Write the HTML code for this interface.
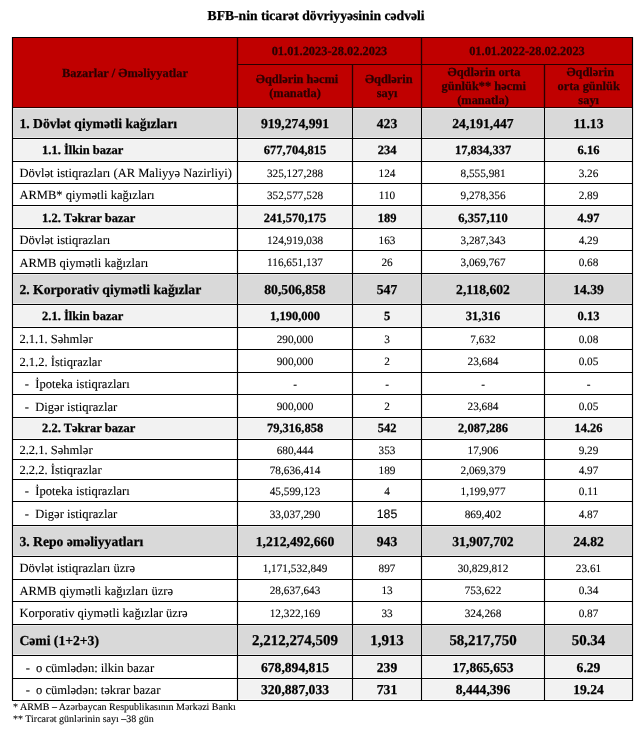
<!DOCTYPE html>
<html lang="az"><head><meta charset="utf-8"><title>BFB-nin ticarət dövriyyəsinin cədvəli</title>
<style>
html,body{margin:0;padding:0;background:#fff;}
body{width:642px;height:730px;position:relative;overflow:hidden;font-family:"Liberation Serif","DejaVu Serif",serif;color:#000;text-rendering:geometricPrecision;}
#g{position:absolute;left:0;top:0;}
.t{position:absolute;height:20px;line-height:20px;white-space:nowrap;text-align:center;-webkit-text-stroke:0.1px #000;}
.l{text-align:left;}
.b{font-weight:bold;-webkit-text-stroke:0.25px #000;}
.h{font-weight:bold;color:#2b0000;-webkit-text-stroke:0.25px #2b0000;}
.s{font-family:"Liberation Sans","DejaVu Sans",sans-serif;}
</style></head><body>
<svg id="g" width="642" height="730" viewBox="0 0 642 730">
<rect x="12.5" y="37.5" width="620.00" height="70.00" fill="#c00000"/>
<rect x="13" y="108" width="224" height="30" fill="#ececec"/>
<rect x="14" y="109" width="222" height="28" fill="#d9d9d9"/>
<rect x="238" y="108" width="114" height="30" fill="#ececec"/>
<rect x="239" y="109" width="112" height="28" fill="#d9d9d9"/>
<rect x="353" y="108" width="68" height="30" fill="#ececec"/>
<rect x="354" y="109" width="66" height="28" fill="#d9d9d9"/>
<rect x="422" y="108" width="122" height="30" fill="#ececec"/>
<rect x="423" y="109" width="120" height="28" fill="#d9d9d9"/>
<rect x="545" y="108" width="87" height="30" fill="#ececec"/>
<rect x="546" y="109" width="85" height="28" fill="#d9d9d9"/>
<rect x="13" y="139" width="224" height="22" fill="#fbfbfb"/>
<rect x="14" y="140" width="222" height="20" fill="#f2f2f2"/>
<rect x="238" y="139" width="114" height="22" fill="#fbfbfb"/>
<rect x="239" y="140" width="112" height="20" fill="#f2f2f2"/>
<rect x="353" y="139" width="68" height="22" fill="#fbfbfb"/>
<rect x="354" y="140" width="66" height="20" fill="#f2f2f2"/>
<rect x="422" y="139" width="122" height="22" fill="#fbfbfb"/>
<rect x="423" y="140" width="120" height="20" fill="#f2f2f2"/>
<rect x="545" y="139" width="87" height="22" fill="#fbfbfb"/>
<rect x="546" y="140" width="85" height="20" fill="#f2f2f2"/>
<rect x="13" y="206" width="224" height="22" fill="#fbfbfb"/>
<rect x="14" y="207" width="222" height="20" fill="#f2f2f2"/>
<rect x="238" y="206" width="114" height="22" fill="#fbfbfb"/>
<rect x="239" y="207" width="112" height="20" fill="#f2f2f2"/>
<rect x="353" y="206" width="68" height="22" fill="#fbfbfb"/>
<rect x="354" y="207" width="66" height="20" fill="#f2f2f2"/>
<rect x="422" y="206" width="122" height="22" fill="#fbfbfb"/>
<rect x="423" y="207" width="120" height="20" fill="#f2f2f2"/>
<rect x="545" y="206" width="87" height="22" fill="#fbfbfb"/>
<rect x="546" y="207" width="85" height="20" fill="#f2f2f2"/>
<rect x="13" y="274" width="224" height="30" fill="#ececec"/>
<rect x="14" y="275" width="222" height="28" fill="#d9d9d9"/>
<rect x="238" y="274" width="114" height="30" fill="#ececec"/>
<rect x="239" y="275" width="112" height="28" fill="#d9d9d9"/>
<rect x="353" y="274" width="68" height="30" fill="#ececec"/>
<rect x="354" y="275" width="66" height="28" fill="#d9d9d9"/>
<rect x="422" y="274" width="122" height="30" fill="#ececec"/>
<rect x="423" y="275" width="120" height="28" fill="#d9d9d9"/>
<rect x="545" y="274" width="87" height="30" fill="#ececec"/>
<rect x="546" y="275" width="85" height="28" fill="#d9d9d9"/>
<rect x="13" y="305" width="224" height="22" fill="#fbfbfb"/>
<rect x="14" y="306" width="222" height="20" fill="#f2f2f2"/>
<rect x="238" y="305" width="114" height="22" fill="#fbfbfb"/>
<rect x="239" y="306" width="112" height="20" fill="#f2f2f2"/>
<rect x="353" y="305" width="68" height="22" fill="#fbfbfb"/>
<rect x="354" y="306" width="66" height="20" fill="#f2f2f2"/>
<rect x="422" y="305" width="122" height="22" fill="#fbfbfb"/>
<rect x="423" y="306" width="120" height="20" fill="#f2f2f2"/>
<rect x="545" y="305" width="87" height="22" fill="#fbfbfb"/>
<rect x="546" y="306" width="85" height="20" fill="#f2f2f2"/>
<rect x="13" y="418" width="224" height="21" fill="#fbfbfb"/>
<rect x="14" y="419" width="222" height="19" fill="#f2f2f2"/>
<rect x="238" y="418" width="114" height="21" fill="#fbfbfb"/>
<rect x="239" y="419" width="112" height="19" fill="#f2f2f2"/>
<rect x="353" y="418" width="68" height="21" fill="#fbfbfb"/>
<rect x="354" y="419" width="66" height="19" fill="#f2f2f2"/>
<rect x="422" y="418" width="122" height="21" fill="#fbfbfb"/>
<rect x="423" y="419" width="120" height="19" fill="#f2f2f2"/>
<rect x="545" y="418" width="87" height="21" fill="#fbfbfb"/>
<rect x="546" y="419" width="85" height="19" fill="#f2f2f2"/>
<rect x="13" y="526" width="224" height="30" fill="#ececec"/>
<rect x="14" y="527" width="222" height="28" fill="#d9d9d9"/>
<rect x="238" y="526" width="114" height="30" fill="#ececec"/>
<rect x="239" y="527" width="112" height="28" fill="#d9d9d9"/>
<rect x="353" y="526" width="68" height="30" fill="#ececec"/>
<rect x="354" y="527" width="66" height="28" fill="#d9d9d9"/>
<rect x="422" y="526" width="122" height="30" fill="#ececec"/>
<rect x="423" y="527" width="120" height="28" fill="#d9d9d9"/>
<rect x="545" y="526" width="87" height="30" fill="#ececec"/>
<rect x="546" y="527" width="85" height="28" fill="#d9d9d9"/>
<rect x="13" y="625" width="224" height="30" fill="#ececec"/>
<rect x="14" y="626" width="222" height="28" fill="#d9d9d9"/>
<rect x="238" y="625" width="114" height="30" fill="#ececec"/>
<rect x="239" y="626" width="112" height="28" fill="#d9d9d9"/>
<rect x="353" y="625" width="68" height="30" fill="#ececec"/>
<rect x="354" y="626" width="66" height="28" fill="#d9d9d9"/>
<rect x="422" y="625" width="122" height="30" fill="#ececec"/>
<rect x="423" y="626" width="120" height="28" fill="#d9d9d9"/>
<rect x="545" y="625" width="87" height="30" fill="#ececec"/>
<rect x="546" y="626" width="85" height="28" fill="#d9d9d9"/>
<rect x="238" y="656" width="114" height="22" fill="#fbfbfb"/>
<rect x="239" y="657" width="112" height="20" fill="#f2f2f2"/>
<rect x="353" y="656" width="68" height="22" fill="#fbfbfb"/>
<rect x="354" y="657" width="66" height="20" fill="#f2f2f2"/>
<rect x="422" y="656" width="122" height="22" fill="#fbfbfb"/>
<rect x="423" y="657" width="120" height="20" fill="#f2f2f2"/>
<rect x="545" y="656" width="87" height="22" fill="#fbfbfb"/>
<rect x="546" y="657" width="85" height="20" fill="#f2f2f2"/>
<rect x="238" y="679" width="114" height="21" fill="#fbfbfb"/>
<rect x="239" y="680" width="112" height="19" fill="#f2f2f2"/>
<rect x="353" y="679" width="68" height="21" fill="#fbfbfb"/>
<rect x="354" y="680" width="66" height="19" fill="#f2f2f2"/>
<rect x="422" y="679" width="122" height="21" fill="#fbfbfb"/>
<rect x="423" y="680" width="120" height="19" fill="#f2f2f2"/>
<rect x="545" y="679" width="87" height="21" fill="#fbfbfb"/>
<rect x="546" y="680" width="85" height="19" fill="#f2f2f2"/>
<g stroke="#000" stroke-width="1.15" fill="none">
<line x1="12.0" y1="37.5" x2="633.0" y2="37.5"/>
<line x1="237.0" y1="64.5" x2="633.0" y2="64.5"/>
<line x1="12.0" y1="107.5" x2="633.0" y2="107.5"/>
<line x1="12.0" y1="138.5" x2="633.0" y2="138.5"/>
<line x1="12.0" y1="161.5" x2="633.0" y2="161.5"/>
<line x1="12.0" y1="183.5" x2="633.0" y2="183.5"/>
<line x1="12.0" y1="205.5" x2="633.0" y2="205.5"/>
<line x1="12.0" y1="228.5" x2="633.0" y2="228.5"/>
<line x1="12.0" y1="250.5" x2="633.0" y2="250.5"/>
<line x1="12.0" y1="273.5" x2="633.0" y2="273.5"/>
<line x1="12.0" y1="304.5" x2="633.0" y2="304.5"/>
<line x1="12.0" y1="327.5" x2="633.0" y2="327.5"/>
<line x1="12.0" y1="349.5" x2="633.0" y2="349.5"/>
<line x1="12.0" y1="372.5" x2="633.0" y2="372.5"/>
<line x1="12.0" y1="394.5" x2="633.0" y2="394.5"/>
<line x1="12.0" y1="417.5" x2="633.0" y2="417.5"/>
<line x1="12.0" y1="439.5" x2="633.0" y2="439.5"/>
<line x1="12.0" y1="459.5" x2="633.0" y2="459.5"/>
<line x1="12.0" y1="479.5" x2="633.0" y2="479.5"/>
<line x1="12.0" y1="501.5" x2="633.0" y2="501.5"/>
<line x1="12.0" y1="525.5" x2="633.0" y2="525.5"/>
<line x1="12.0" y1="556.5" x2="633.0" y2="556.5"/>
<line x1="12.0" y1="579.5" x2="633.0" y2="579.5"/>
<line x1="12.0" y1="601.5" x2="633.0" y2="601.5"/>
<line x1="12.0" y1="624.5" x2="633.0" y2="624.5"/>
<line x1="12.0" y1="655.5" x2="633.0" y2="655.5"/>
<line x1="12.0" y1="678.5" x2="633.0" y2="678.5"/>
<line x1="12.0" y1="700.5" x2="633.0" y2="700.5"/>
<line x1="12.5" y1="37.0" x2="12.5" y2="701.0"/>
<line x1="237.5" y1="37.0" x2="237.5" y2="701.0"/>
<line x1="352.5" y1="64.0" x2="352.5" y2="701.0"/>
<line x1="421.5" y1="37.0" x2="421.5" y2="701.0"/>
<line x1="544.5" y1="64.0" x2="544.5" y2="701.0"/>
<line x1="632.5" y1="37.0" x2="632.5" y2="701.0"/>
</g>
<g stroke="#2a0000" stroke-width="1.15" fill="none">
<line x1="238.0" y1="64.5" x2="632.0" y2="64.5"/>
<line x1="13.0" y1="107.5" x2="632.0" y2="107.5"/>
<line x1="237.5" y1="38.0" x2="237.5" y2="107.0"/>
<line x1="352.5" y1="65.0" x2="352.5" y2="107.0"/>
<line x1="421.5" y1="38.0" x2="421.5" y2="107.0"/>
<line x1="544.5" y1="65.0" x2="544.5" y2="107.0"/>
</g></svg>
<h1 class="t b" style="left:166.10px;width:300.00px;top:6px;font-size:13.65px;margin:0;">BFB-nin ticarət dövriyyəsinin cədvəli</h1>
<div class="t h" style="left:12.50px;width:225.00px;top:63px;font-size:12.4px;">Bazarlar / Əməliyyatlar</div>
<div class="t h" style="left:237.50px;width:184.00px;top:41px;font-size:12.4px;">01.01.2023-28.02.2023</div>
<div class="t h" style="left:421.50px;width:211.00px;top:41px;font-size:12.4px;">01.01.2022-28.02.2023</div>
<div class="t h" style="left:239.50px;width:115.00px;top:69px;font-size:12.4px;">Əqdlərin həcmi</div>
<div class="t h" style="left:237.50px;width:115.00px;top:83px;font-size:12.4px;">(manatla)</div>
<div class="t h" style="left:354.30px;width:69.00px;top:69px;font-size:12.4px;">Əqdlərin</div>
<div class="t h" style="left:352.50px;width:69.00px;top:83px;font-size:12.4px;">sayı</div>
<div class="t h" style="left:422.50px;width:123.00px;top:62px;font-size:12.4px;">Əqdlərin orta</div>
<div class="t h" style="left:422.30px;width:123.00px;top:76px;font-size:12.4px;">günlük** həcmi</div>
<div class="t h" style="left:421.50px;width:123.00px;top:90px;font-size:12.4px;">(manatla)</div>
<div class="t h" style="left:546.30px;width:88.00px;top:62px;font-size:12.4px;">Əqdlərin</div>
<div class="t h" style="left:544.70px;width:88.00px;top:76px;font-size:12.4px;">orta günlük</div>
<div class="t h" style="left:544.70px;width:88.00px;top:90px;font-size:12.4px;">sayı</div>
<div class="t l b" style="left:19.40px;top:114px;font-size:13.65px;">1. Dövlət qiymətli kağızları</div>
<div class="t b" style="left:237.50px;width:115.00px;top:114px;font-size:13.65px;">919,274,991</div>
<div class="t b" style="left:352.50px;width:69.00px;top:114px;font-size:13.65px;">423</div>
<div class="t b" style="left:421.50px;width:123.00px;top:114px;font-size:13.65px;">24,191,447</div>
<div class="t b" style="left:544.50px;width:88.00px;top:114px;font-size:13.65px;">11.13</div>
<div class="t l b" style="left:42.00px;top:140px;font-size:12.5px;">1.1. İlkin bazar</div>
<div class="t b" style="left:237.50px;width:115.00px;top:140px;font-size:12.5px;">677,704,815</div>
<div class="t b" style="left:352.50px;width:69.00px;top:140px;font-size:12.5px;">234</div>
<div class="t b" style="left:421.50px;width:123.00px;top:140px;font-size:12.5px;">17,834,337</div>
<div class="t b" style="left:544.50px;width:88.00px;top:140px;font-size:12.5px;">6.16</div>
<div class="t l" style="left:19.40px;top:163px;font-size:12.55px;">Dövlət istiqrazları (AR Maliyyə Nazirliyi)</div>
<div class="t" style="left:237.50px;width:115.00px;top:164px;font-size:11.25px;">325,127,288</div>
<div class="t" style="left:352.50px;width:69.00px;top:164px;font-size:11.25px;">124</div>
<div class="t" style="left:421.50px;width:123.00px;top:164px;font-size:11.25px;">8,555,981</div>
<div class="t" style="left:544.50px;width:88.00px;top:164px;font-size:11.25px;">3.26</div>
<div class="t l" style="left:19.40px;top:185px;font-size:12.55px;">ARMB* qiymətli kağızları</div>
<div class="t" style="left:237.50px;width:115.00px;top:186px;font-size:11.25px;">352,577,528</div>
<div class="t" style="left:352.50px;width:69.00px;top:186px;font-size:11.25px;">110</div>
<div class="t" style="left:421.50px;width:123.00px;top:186px;font-size:11.25px;">9,278,356</div>
<div class="t" style="left:544.50px;width:88.00px;top:186px;font-size:11.25px;">2.89</div>
<div class="t l b" style="left:42.00px;top:208px;font-size:12.5px;">1.2. Təkrar bazar</div>
<div class="t b" style="left:237.50px;width:115.00px;top:208px;font-size:12.5px;">241,570,175</div>
<div class="t b" style="left:352.50px;width:69.00px;top:208px;font-size:12.5px;">189</div>
<div class="t b" style="left:421.50px;width:123.00px;top:208px;font-size:12.5px;">6,357,110</div>
<div class="t b" style="left:544.50px;width:88.00px;top:208px;font-size:12.5px;">4.97</div>
<div class="t l" style="left:19.40px;top:230px;font-size:12.55px;">Dövlət istiqrazları</div>
<div class="t" style="left:237.50px;width:115.00px;top:231px;font-size:11.25px;">124,919,038</div>
<div class="t" style="left:352.50px;width:69.00px;top:231px;font-size:11.25px;">163</div>
<div class="t" style="left:421.50px;width:123.00px;top:231px;font-size:11.25px;">3,287,343</div>
<div class="t" style="left:544.50px;width:88.00px;top:231px;font-size:11.25px;">4.29</div>
<div class="t l" style="left:19.40px;top:253px;font-size:12.55px;">ARMB qiymətli kağızları</div>
<div class="t" style="left:237.50px;width:115.00px;top:253px;font-size:11.25px;">116,651,137</div>
<div class="t" style="left:352.50px;width:69.00px;top:253px;font-size:11.25px;">26</div>
<div class="t" style="left:421.50px;width:123.00px;top:253px;font-size:11.25px;">3,069,767</div>
<div class="t" style="left:544.50px;width:88.00px;top:253px;font-size:11.25px;">0.68</div>
<div class="t l b" style="left:19.40px;top:280px;font-size:13.65px;">2. Korporativ qiymətli kağızlar</div>
<div class="t b" style="left:237.50px;width:115.00px;top:280px;font-size:13.65px;">80,506,858</div>
<div class="t b" style="left:352.50px;width:69.00px;top:280px;font-size:13.65px;">547</div>
<div class="t b" style="left:421.50px;width:123.00px;top:280px;font-size:13.65px;">2,118,602</div>
<div class="t b" style="left:544.50px;width:88.00px;top:280px;font-size:13.65px;">14.39</div>
<div class="t l b" style="left:42.00px;top:306px;font-size:12.5px;">2.1. İlkin bazar</div>
<div class="t b" style="left:237.50px;width:115.00px;top:306px;font-size:12.5px;">1,190,000</div>
<div class="t b" style="left:352.50px;width:69.00px;top:306px;font-size:12.5px;">5</div>
<div class="t b" style="left:421.50px;width:123.00px;top:306px;font-size:12.5px;">31,316</div>
<div class="t b" style="left:544.50px;width:88.00px;top:306px;font-size:12.5px;">0.13</div>
<div class="t l" style="left:19.40px;top:329px;font-size:12.55px;">2.1.1. Səhmlər</div>
<div class="t" style="left:237.50px;width:115.00px;top:330px;font-size:11.25px;">290,000</div>
<div class="t" style="left:352.50px;width:69.00px;top:330px;font-size:11.25px;">3</div>
<div class="t" style="left:421.50px;width:123.00px;top:330px;font-size:11.25px;">7,632</div>
<div class="t" style="left:544.50px;width:88.00px;top:330px;font-size:11.25px;">0.08</div>
<div class="t l" style="left:19.40px;top:352px;font-size:12.55px;">2.1.2. İstiqrazlar</div>
<div class="t" style="left:237.50px;width:115.00px;top:352px;font-size:11.25px;">900,000</div>
<div class="t" style="left:352.50px;width:69.00px;top:352px;font-size:11.25px;">2</div>
<div class="t" style="left:421.50px;width:123.00px;top:352px;font-size:11.25px;">23,684</div>
<div class="t" style="left:544.50px;width:88.00px;top:352px;font-size:11.25px;">0.05</div>
<div class="t l" style="left:24.80px;top:374px;font-size:12.55px;">-</div>
<div class="t l" style="left:35.30px;top:374px;font-size:12.55px;">İpoteka istiqrazları</div>
<div class="t" style="left:237.50px;width:115.00px;top:375px;font-size:11.25px;">-</div>
<div class="t" style="left:352.50px;width:69.00px;top:375px;font-size:11.25px;">-</div>
<div class="t" style="left:421.50px;width:123.00px;top:375px;font-size:11.25px;">-</div>
<div class="t" style="left:544.50px;width:88.00px;top:375px;font-size:11.25px;">-</div>
<div class="t l" style="left:24.80px;top:397px;font-size:12.55px;">-</div>
<div class="t l" style="left:35.30px;top:397px;font-size:12.55px;">Digər istiqrazlar</div>
<div class="t" style="left:237.50px;width:115.00px;top:397px;font-size:11.25px;">900,000</div>
<div class="t" style="left:352.50px;width:69.00px;top:397px;font-size:11.25px;">2</div>
<div class="t" style="left:421.50px;width:123.00px;top:397px;font-size:11.25px;">23,684</div>
<div class="t" style="left:544.50px;width:88.00px;top:397px;font-size:11.25px;">0.05</div>
<div class="t l b" style="left:42.00px;top:418px;font-size:12.5px;">2.2. Təkrar bazar</div>
<div class="t b" style="left:237.50px;width:115.00px;top:418px;font-size:12.5px;">79,316,858</div>
<div class="t b" style="left:352.50px;width:69.00px;top:418px;font-size:12.5px;">542</div>
<div class="t b" style="left:421.50px;width:123.00px;top:418px;font-size:12.5px;">2,087,286</div>
<div class="t b" style="left:544.50px;width:88.00px;top:418px;font-size:12.5px;">14.26</div>
<div class="t l" style="left:19.40px;top:440px;font-size:12.55px;">2.2.1. Səhmlər</div>
<div class="t" style="left:237.50px;width:115.00px;top:441px;font-size:11.25px;">680,444</div>
<div class="t" style="left:352.50px;width:69.00px;top:441px;font-size:11.25px;">353</div>
<div class="t" style="left:421.50px;width:123.00px;top:441px;font-size:11.25px;">17,906</div>
<div class="t" style="left:544.50px;width:88.00px;top:441px;font-size:11.25px;">9.29</div>
<div class="t l" style="left:19.40px;top:460px;font-size:12.55px;">2.2.2. İstiqrazlar</div>
<div class="t" style="left:237.50px;width:115.00px;top:461px;font-size:11.25px;">78,636,414</div>
<div class="t" style="left:352.50px;width:69.00px;top:461px;font-size:11.25px;">189</div>
<div class="t" style="left:421.50px;width:123.00px;top:461px;font-size:11.25px;">2,069,379</div>
<div class="t" style="left:544.50px;width:88.00px;top:461px;font-size:11.25px;">4.97</div>
<div class="t l" style="left:24.80px;top:481px;font-size:12.55px;">-</div>
<div class="t l" style="left:35.30px;top:481px;font-size:12.55px;">İpoteka istiqrazları</div>
<div class="t" style="left:237.50px;width:115.00px;top:482px;font-size:11.25px;">45,599,123</div>
<div class="t" style="left:352.50px;width:69.00px;top:482px;font-size:11.25px;">4</div>
<div class="t" style="left:421.50px;width:123.00px;top:482px;font-size:11.25px;">1,199,977</div>
<div class="t" style="left:544.50px;width:88.00px;top:482px;font-size:11.25px;">0.11</div>
<div class="t l" style="left:24.80px;top:504px;font-size:12.55px;">-</div>
<div class="t l" style="left:35.30px;top:504px;font-size:12.55px;">Digər istiqrazlar</div>
<div class="t" style="left:237.50px;width:115.00px;top:505px;font-size:11.25px;">33,037,290</div>
<div class="t s" style="left:352.50px;width:69.00px;top:504px;font-size:12.3px;">185</div>
<div class="t" style="left:421.50px;width:123.00px;top:505px;font-size:11.25px;">869,402</div>
<div class="t" style="left:544.50px;width:88.00px;top:505px;font-size:11.25px;">4.87</div>
<div class="t l b" style="left:19.40px;top:532px;font-size:13.65px;">3. Repo əməliyyatları</div>
<div class="t b" style="left:237.50px;width:115.00px;top:532px;font-size:13.65px;">1,212,492,660</div>
<div class="t b" style="left:352.50px;width:69.00px;top:532px;font-size:13.65px;">943</div>
<div class="t b" style="left:421.50px;width:123.00px;top:532px;font-size:13.65px;">31,907,702</div>
<div class="t b" style="left:544.50px;width:88.00px;top:532px;font-size:13.65px;">24.82</div>
<div class="t l" style="left:19.40px;top:558px;font-size:12.55px;">Dövlət istiqrazları üzrə</div>
<div class="t" style="left:237.50px;width:115.00px;top:559px;font-size:11.25px;">1,171,532,849</div>
<div class="t" style="left:352.50px;width:69.00px;top:559px;font-size:11.25px;">897</div>
<div class="t" style="left:421.50px;width:123.00px;top:559px;font-size:11.25px;">30,829,812</div>
<div class="t" style="left:544.50px;width:88.00px;top:559px;font-size:11.25px;">23.61</div>
<div class="t l" style="left:19.40px;top:581px;font-size:12.55px;">ARMB qiymətli kağızları üzrə</div>
<div class="t" style="left:237.50px;width:115.00px;top:581px;font-size:11.25px;">28,637,643</div>
<div class="t" style="left:352.50px;width:69.00px;top:581px;font-size:11.25px;">13</div>
<div class="t" style="left:421.50px;width:123.00px;top:581px;font-size:11.25px;">753,622</div>
<div class="t" style="left:544.50px;width:88.00px;top:581px;font-size:11.25px;">0.34</div>
<div class="t l" style="left:19.40px;top:603px;font-size:12.55px;">Korporativ qiymətli kağızlar üzrə</div>
<div class="t" style="left:237.50px;width:115.00px;top:604px;font-size:11.25px;">12,322,169</div>
<div class="t" style="left:352.50px;width:69.00px;top:604px;font-size:11.25px;">33</div>
<div class="t" style="left:421.50px;width:123.00px;top:604px;font-size:11.25px;">324,268</div>
<div class="t" style="left:544.50px;width:88.00px;top:604px;font-size:11.25px;">0.87</div>
<div class="t l b" style="left:19.40px;top:631px;font-size:13.65px;">Cəmi (1+2+3)</div>
<div class="t b" style="left:237.50px;width:115.00px;top:631px;font-size:14.95px;">2,212,274,509</div>
<div class="t b" style="left:352.50px;width:69.00px;top:631px;font-size:14.95px;">1,913</div>
<div class="t b" style="left:421.50px;width:123.00px;top:631px;font-size:14.95px;">58,217,750</div>
<div class="t b" style="left:544.50px;width:88.00px;top:631px;font-size:14.95px;">50.34</div>
<div class="t l" style="left:25.80px;top:658px;font-size:12.55px;">-</div>
<div class="t l" style="left:36.00px;top:658px;font-size:12.55px;">o cümlədən: ilkin bazar</div>
<div class="t b" style="left:237.50px;width:115.00px;top:658px;font-size:13.6px;">678,894,815</div>
<div class="t b" style="left:352.50px;width:69.00px;top:658px;font-size:13.6px;">239</div>
<div class="t b" style="left:421.50px;width:123.00px;top:658px;font-size:13.6px;">17,865,653</div>
<div class="t b" style="left:544.50px;width:88.00px;top:658px;font-size:13.6px;">6.29</div>
<div class="t l" style="left:25.80px;top:680px;font-size:12.55px;">-</div>
<div class="t l" style="left:36.00px;top:680px;font-size:12.55px;">o cümlədən: təkrar bazar</div>
<div class="t b" style="left:237.50px;width:115.00px;top:680px;font-size:13.6px;">320,887,033</div>
<div class="t b" style="left:352.50px;width:69.00px;top:680px;font-size:13.6px;">731</div>
<div class="t b" style="left:421.50px;width:123.00px;top:680px;font-size:13.6px;">8,444,396</div>
<div class="t b" style="left:544.50px;width:88.00px;top:680px;font-size:13.6px;">19.24</div>
<div class="t l" style="left:13.00px;top:698px;font-size:10.0px;">* ARMB – Azərbaycan Respublikasının Mərkəzi Bankı</div>
<div class="t l" style="left:13.00px;top:710px;font-size:10.0px;">** Tircarət günlərinin sayı –38 gün</div>
</body></html>
